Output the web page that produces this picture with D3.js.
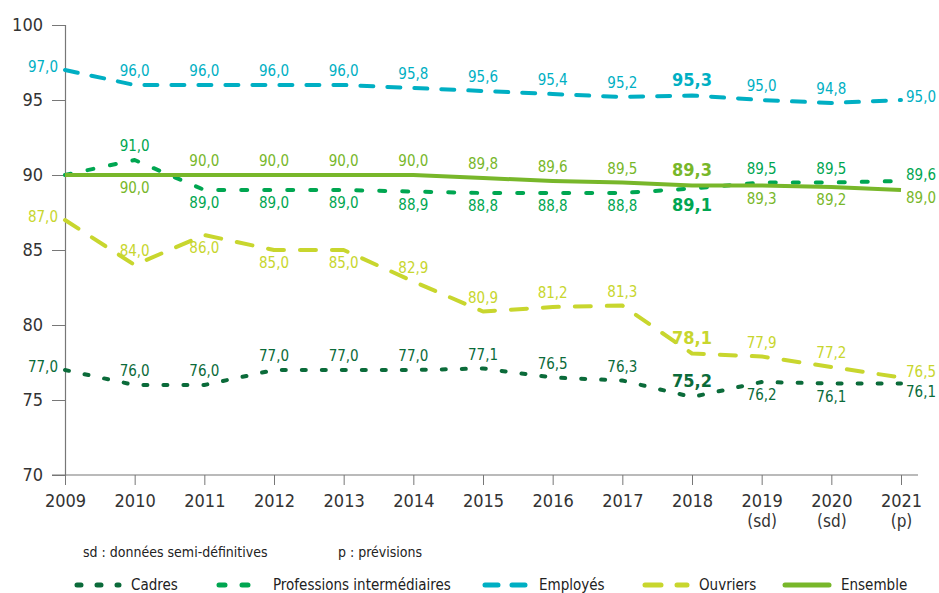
<!DOCTYPE html>
<html lang="fr">
<head>
<meta charset="UTF-8">
<title>Taux par catégorie</title>
<script src="https://d3js.org/d3.v7.min.js"></script>
<style>
  body { margin: 0; background: #fff; }
  svg text { font-family: "DejaVu Sans Condensed", "Liberation Sans Narrow", "DejaVu Sans", sans-serif; font-stretch: condensed; }
</style>
</head>
<body>
<script>
// Data
const years = ["2009","2010","2011","2012","2013","2014","2015","2016","2017","2018","2019","2020","2021"];
const yearSub = ["","","","","","","","","","","(sd)","(sd)","(p)"];
const yTicks = [70, 75, 80, 85, 90, 95, 100];

const cadres   = [77.0, 76.0, 76.0, 77.0, 77.0, 77.0, 77.1, 76.5, 76.3, 75.2, 76.2, 76.1, 76.1];
const profInt  = [90.0, 91.0, 89.0, 89.0, 89.0, 88.9, 88.8, 88.8, 88.8, 89.1, 89.5, 89.5, 89.6];
const employes = [97.0, 96.0, 96.0, 96.0, 96.0, 95.8, 95.6, 95.4, 95.2, 95.3, 95.0, 94.8, 95.0];
const ouvriers = [87.0, 84.0, 86.0, 85.0, 85.0, 82.9, 80.9, 81.2, 81.3, 78.1, 77.9, 77.2, 76.5];
const ensemble = [90.0, 90.0, 90.0, 90.0, 90.0, 90.0, 89.8, 89.6, 89.5, 89.3, 89.3, 89.2, 89.0];

// label placement: l=left, a=above, b=below, r/ru/rd=right, "" = none
const cadresPos   = ["l","a","a","a","a","a","a","a","a","a","b","b","rd"];
const profIntPos  = ["","a","b","b","b","b","b","b","b","b","a","a","ru"];
const employesPos = ["l","a","a","a","a","a","a","a","a","a","a","a","r"];
const ouvriersPos = ["l","a","b","b","b","a","a","a","a","a","a","a","ru"];
const ensemblePos = ["","b","a","a","a","a","a","a","a","a","b","b","rd"];

const boldYear = "2018";

const series = [
  { name: "Cadres", values: cadres, pos: cadresPos, color: "#0b6b3a", dash: "4,16" },
  { name: "Professions intermédiaires", values: profInt, pos: profIntPos, color: "#00a651", dash: "6,17" },
  { name: "Employés", values: employes, pos: employesPos, color: "#00afc3", dash: "13,14" },
  { name: "Ouvriers", values: ouvriers, pos: ouvriersPos, color: "#c8d62e", dash: "16,16" },
  { name: "Ensemble", values: ensemble, pos: ensemblePos, color: "#78b72a", dash: null }
];

const W = 939, H = 593;
const svg = d3.select("body").append("svg")
  .attr("width", W)
  .attr("height", H);

const x = d3.scalePoint().domain(years).range([65, 901]);
const y = d3.scaleLinear().domain([70, 100]).range([475, 25]);

// y axis
const yAxis = svg.append("g")
  .attr("transform", "translate(65,0)")
  .call(d3.axisLeft(y).tickValues(yTicks).tickSize(13).tickPadding(9));
yAxis.select(".domain").attr("stroke", "#777").attr("stroke-width", 1.2);
yAxis.selectAll(".tick line").attr("stroke", "#777");
yAxis.selectAll(".tick text").attr("font-size", 18).attr("fill", "#333");

// x axis
const xAxis = svg.append("g")
  .attr("transform", "translate(0,475)")
  .call(d3.axisBottom(x).tickSize(10).tickPadding(9).tickSizeOuter(0));
xAxis.select(".domain").attr("d", "M52,0H918").attr("stroke", "#777").attr("stroke-width", 1.2);
xAxis.selectAll(".tick line").attr("stroke", "#777");
xAxis.selectAll(".tick text").attr("font-size", 18).attr("fill", "#333");
xAxis.selectAll(".tick").append("text")
  .attr("y", 52)
  .attr("text-anchor", "middle")
  .attr("font-size", 17)
  .attr("fill", "#333")
  .text((d, i) => yearSub[i]);

// lines
const line = d3.line()
  .x((d, i) => x(years[i]))
  .y(d => y(d));

series.forEach(s => {
  svg.append("path")
    .datum(s.values)
    .attr("fill", "none")
    .attr("stroke", s.color)
    .attr("stroke-width", 4)
    .attr("stroke-linecap", s.dash ? "round" : "butt")
    .attr("stroke-linejoin", "round")
    .attr("stroke-dasharray", s.dash)
    .attr("d", line);
});

// value labels
const fmt = v => d3.format(".1f")(v).replace(".", ",");
series.forEach(s => {
  s.values.forEach((v, i) => {
    const p = s.pos[i];
    if (!p) return;
    const bold = years[i] === boldYear;
    const px = x(years[i]), py = y(v);
    let tx = px, ty = py, anchor = "middle";
    if (p === "a") ty = py - (bold ? 10 : 9);
    else if (p === "b") ty = py + (bold ? 22 : 18);
    else if (p === "l") { tx = px - 7; ty = py + 2; anchor = "end"; }
    else if (p === "r") { tx = px + 5; ty = py + 2; anchor = "start"; }
    else if (p === "ru") { tx = px + 5; ty = py - 1; anchor = "start"; }
    else if (p === "rd") { tx = px + 5; ty = py + 13; anchor = "start"; }
    svg.append("text")
      .attr("x", tx)
      .attr("y", ty)
      .attr("text-anchor", anchor)
      .attr("font-size", bold ? 18 : 15)
      .attr("font-weight", bold ? "bold" : "normal")
      .attr("fill", s.color)
      .text(fmt(v));
  });
});

// footnote
svg.append("text").attr("x", 83).attr("y", 557).attr("font-size", 14).attr("fill", "#222")
  .text("sd : données semi-définitives");
svg.append("text").attr("x", 338).attr("y", 557).attr("font-size", 14).attr("fill", "#222")
  .text("p : prévisions");

// legend
const legendX = [75, 217, 483, 643, 785];
series.forEach((s, i) => {
  const g = svg.append("g").attr("transform", `translate(${legendX[i]},585)`);
  g.append("line")
    .attr("x1", s.dash ? 2 : 0).attr("x2", 44)
    .attr("stroke", s.color)
    .attr("stroke-width", 5)
    .attr("stroke-linecap", s.dash ? "round" : "round")
    .attr("stroke-dasharray", s.dash);
  g.append("text")
    .attr("x", 56)
    .attr("y", 5)
    .attr("font-size", 15)
    .attr("fill", "#222")
    .text(s.name);
});
</script>
</body>
</html>
